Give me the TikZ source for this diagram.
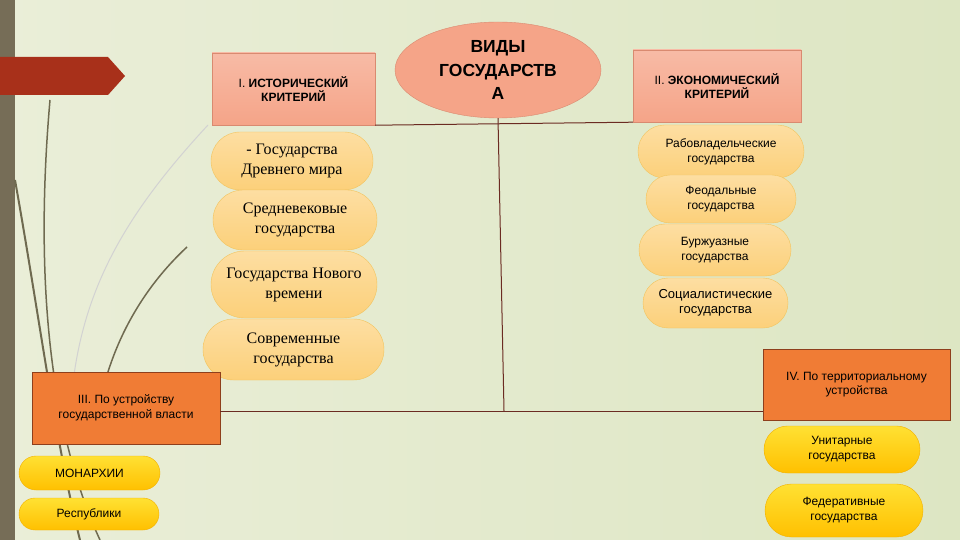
\documentclass[tikz,border=0pt]{standalone}
\usepackage{fontspec}
\setmainfont{Liberation Serif}
\setsansfont{Liberation Sans}
\usetikzlibrary{shapes.geometric,shapes.misc}

\definecolor{bgleft}{HTML}{EAEED8}
\definecolor{bgmid}{HTML}{FAFAF2}
\definecolor{bgright}{HTML}{DDE6C3}
\definecolor{barcol}{HTML}{766D57}
\definecolor{arrowred}{HTML}{A8301A}
\definecolor{salmon}{HTML}{F5A488}
\definecolor{salmonedge}{HTML}{D98A70}
\definecolor{pale}{HTML}{FCD07A}
\definecolor{paleedge}{HTML}{F2C45E}
\definecolor{gold}{HTML}{FFC000}
\definecolor{goldedge}{HTML}{F2B000}
\definecolor{orangebox}{HTML}{F07C35}
\definecolor{orangeedge}{HTML}{8E3F1C}
\definecolor{linecol}{HTML}{6B2B22}
\definecolor{grass}{HTML}{6F6A50}

\begin{document}
\begin{tikzpicture}[x=1pt,y=-1pt,
  crit/.style={draw=salmonedge,top color=salmon!75!white,bottom color=salmon,
    minimum width=166pt,minimum height=72pt,inner sep=2pt,align=center,
    font=\sffamily\fontsize{12}{14}\selectfont},
  group/.style={draw=orangeedge,fill=orangebox,minimum width=188pt,minimum height=72pt,
    align=center,font=\sffamily\fontsize{12}{14.5}\selectfont},
  histpill/.style={rounded rectangle,draw=paleedge,top color=pale!70!white,bottom color=pale,
    inner sep=1pt,align=center,font=\fontsize{16}{20}\selectfont},
  econpill/.style={rounded rectangle,draw=paleedge,top color=pale!70!white,bottom color=pale,
    inner sep=1pt,align=center,font=\sffamily\fontsize{12}{15}\selectfont},
  goldpill/.style={rounded rectangle,draw=goldedge,top color=gold!60!yellow!80!white,bottom color=gold,
    inner sep=1pt,align=center,font=\sffamily\fontsize{12}{15}\selectfont},
  link/.style={draw=linecol,line width=1pt}]
  \useasboundingbox (0,0) rectangle (960,540);

  % Background
  \shade[left color=bgleft,middle color=bgmid,right color=bgright] (0,0) rectangle (960,540);
  \fill[barcol] (0,0) rectangle (15,540);
  \fill[arrowred] (0,57) -- (108,57) -- (125,76) -- (108,95) -- (0,95) -- cycle;

  % Grass
  \draw[gray!35,line width=1pt] (208,125) .. controls (120,220) and (75,300) .. (70,420);
  \draw[grass,line width=1.5pt] (50,100) .. controls (36,260) and (45,420) .. (100,540);
  \draw[grass,line width=2pt] (15,180) .. controls (40,320) and (55,440) .. (80,540);
  \draw[grass,line width=1.5pt] (187,247) .. controls (130,300) and (100,370) .. (95,440);

  % Title
  \node[ellipse,draw=salmonedge,fill=salmon,minimum width=206pt,minimum height=96pt,
    inner sep=0pt,align=center,font=\sffamily\bfseries\fontsize{17.5}{23.5}\selectfont]
    (views) at (498,70) {ВИДЫ\\ГОСУДАРСТВ\\А};

  % Criteria
  \node[crit,minimum width=163pt] (hist) at (293.5,89) {I. \textbf{ИСТОРИЧЕСКИЙ}\\\textbf{КРИТЕРИЙ}};
  \node[crit,minimum width=168pt] (econ) at (717,86) {II. \textbf{ЭКОНОМИЧЕСКИЙ}\\\textbf{КРИТЕРИЙ}};

  % Historical
  \node[histpill,minimum width=164pt,minimum height=58pt] (ancient) at (292,161) {- Государства\\Древнего мира};
  \node[histpill,minimum width=166pt,minimum height=60pt] (medieval) at (295,220) {Средневековые\\государства};
  \node[histpill,minimum width=168pt,minimum height=67pt] (modern) at (294,284.5) {Государства Нового\\времени};
  \node[histpill,minimum width=183pt,minimum height=61pt] (current) at (293.5,349.5) {Современные\\государства};

  % Economic
  \node[econpill,minimum width=168pt,minimum height=53pt] (slave) at (721,151.5) {Рабовладельческие\\государства};
  \node[econpill,minimum width=152pt,minimum height=48pt] (feudal) at (721,199) {Феодальные\\государства};
  \node[econpill,minimum width=154pt,minimum height=52pt] (bourg) at (715,250) {Буржуазные\\государства};
  \node[econpill,minimum width=147pt,minimum height=50pt,font=\sffamily\fontsize{13}{15}\selectfont]
    (social) at (715.5,303) {Социалистические\\государства};

  % Power and territory
  \node[group] (power) at (126,408) {III. По устройству\\государственной власти};
  \node[group,minimum width=187pt,minimum height=71pt] (terr) at (856.5,384.5) {IV. По территориальному\\устройства};

  \node[goldpill,minimum width=143pt,minimum height=34pt] (monarchy) at (89.5,473) {МОНАРХИИ};
  \node[goldpill,minimum width=142pt,minimum height=32pt] (republic) at (89,514) {Республики};
  \node[goldpill,minimum width=158pt,minimum height=47pt] (unitary) at (842,449.5) {Унитарные\\государства};
  \node[goldpill,minimum width=160pt,minimum height=53pt] (federal) at (844,510.5) {Федеративные\\государства};

  % Links
  \coordinate (mid) at (504,411);
  \draw[link] (hist.south east) -- (econ.south west);
  \draw[link] (views.south) -- (mid);
  \draw[link] (power.east |- mid) -- (terr.west |- mid);

\end{tikzpicture}
\end{document}
